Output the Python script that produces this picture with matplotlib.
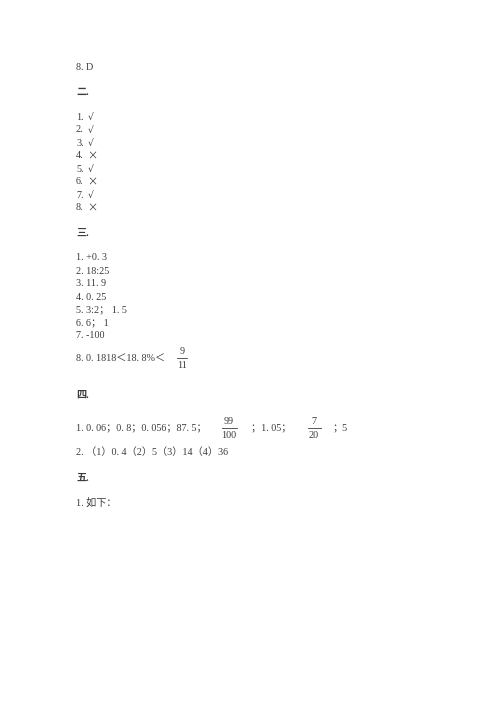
import matplotlib.pyplot as plt

plt.rcParams['font.family'] = ['Liberation Serif', 'Noto Sans CJK SC', 'DejaVu Sans']

# 答案页内容
top_line = '8. D'
sec2_title = '二.'
sec2_nums = ['1.', '2.', '3.', '4.', '5.', '6.', '7.', '8.']
sec2_marks = ['√', '√', '√', '×', '√', '×', '√', '×']
sec3_title = '三.'
sec3_items = ['1. +0. 3', '2. 18:25', '3. 11. 9', '4. 0. 25', '5. 3:2； 1. 5', '6. 6； 1', '7. -100']
sec3_last = '8. 0. 1818＜18. 8%＜'
sec3_frac = ('9', '11')
sec4_title = '四.'
sec4_parts = ['1. 0. 06；0. 8；0. 056；87. 5；', '；1. 05；', '；5']
sec4_fracs = [('99', '100'), ('7', '20')]
sec4_line2 = '2. （1）0. 4（2）5（3）14（4）36'
sec5_title = '五.'
sec5_items = ['1. 如下：']

color = '#3c3c3c'
fs = 7.3
x0 = 76
step = 13


def put(ax, x, y, s, bold=False, ha='left', family=None, size=fs):
    kw = {}
    if family:
        kw['family'] = family
    ax.text(x, y, s, fontsize=size, color=color, ha=ha, va='center',
            fontweight='bold' if bold else 'normal', **kw)


def frac(ax, xc, y, num, den, w):
    put(ax, xc, y - 7, num, ha='center')
    put(ax, xc, y + 7, den, ha='center')
    ax.plot([xc - w / 2, xc + w / 2], [y, y], color=color, linewidth=0.6)


fig = plt.figure(figsize=(5, 7.07), dpi=100)
ax = fig.add_axes([0, 0, 1, 1])
ax.set_xlim(0, 500)
ax.set_ylim(707, 0)
ax.axis('off')

put(ax, x0, 67, top_line)
put(ax, x0, 92, sec2_title, bold=True)
for i, (n, m) in enumerate(zip(sec2_nums, sec2_marks)):
    y = 117 + i * step
    put(ax, x0, y, n)
    if m == '×':
        put(ax, x0 + 11, y, m, family=['Noto Sans CJK SC'])
    else:
        put(ax, x0 + 12, y, m, family=['DejaVu Serif'], size=fs * 0.9)

put(ax, x0, 233, sec3_title, bold=True)
for i, s in enumerate(sec3_items):
    put(ax, x0, 258 + i * step, s)
put(ax, x0, 358, sec3_last)
frac(ax, 182, 358, sec3_frac[0], sec3_frac[1], 10)

put(ax, x0, 395, sec4_title, bold=True)
put(ax, x0, 428, sec4_parts[0])
frac(ax, 229, 428, sec4_fracs[0][0], sec4_fracs[0][1], 15)
put(ax, 251, 428, sec4_parts[1])
frac(ax, 314, 428, sec4_fracs[1][0], sec4_fracs[1][1], 13)
put(ax, 333, 428, sec4_parts[2])
put(ax, x0, 452, sec4_line2)

put(ax, x0, 478, sec5_title, bold=True)
for i, s in enumerate(sec5_items):
    put(ax, x0, 503 + i * step, s)

fig.savefig('out.png', dpi=100)
